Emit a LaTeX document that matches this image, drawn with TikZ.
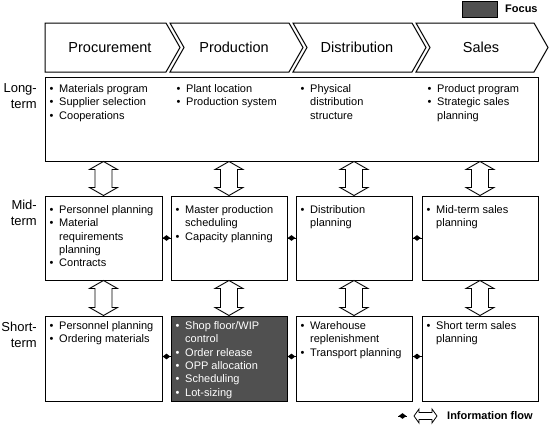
\documentclass[tikz,border=0pt]{standalone}
\usepackage{fontspec}
\setmainfont{Liberation Sans}
\usetikzlibrary{calc,shapes.geometric}
\definecolor{focusgray}{RGB}{80,80,80}
\newcommand{\bul}{\makebox[9.5pt][l]{•}}
\newcommand{\blist}[1]{\begin{tabular}[t]{@{}l@{}l@{}}#1\end{tabular}}
\newcommand{\vdbl}[2]{%
  \draw[dblarr] let \p1=(#1), \p2=(#2) in
    (\x1,\y1) -- (\x1+14pt,\y1-8pt) -- (\x1+8.5pt,\y1-8pt) -- (\x1+8.5pt,\y2+8pt)
    -- (\x1+14pt,\y2+8pt) -- (\x1,\y2) -- (\x1-14pt,\y2+8pt) -- (\x1-8.5pt,\y2+8pt)
    -- (\x1-8.5pt,\y1-8pt) -- (\x1-14pt,\y1-8pt) -- cycle;}
\newcommand{\hdbl}[2]{%
  \draw[legarr] let \p1=(#1), \p2=(#2) in
    (\x1,\y1) -- (\x1+5pt,\y1+7pt) -- (\x1+5pt,\y1+3.5pt) -- (\x2-5pt,\y1+3.5pt)
    -- (\x2-5pt,\y1+7pt) -- (\x2,\y1) -- (\x2-5pt,\y1-7pt) -- (\x2-5pt,\y1-3.5pt)
    -- (\x1+5pt,\y1-3.5pt) -- (\x1+5pt,\y1-7pt) -- cycle;}
\begin{document}
\begin{tikzpicture}[x=1pt,y=-1pt,
  chev/.style={draw, line width=1pt, fill=white},
  chevtxt/.style={font=\fontsize{14.5}{17}\selectfont, inner sep=0},
  box/.style={draw, line width=1pt, fill=white, inner sep=0},
  txt/.style={font=\fontsize{11}{13.3}\selectfont, inner sep=0},
  rowlbl/.style={font=\fontsize{13}{16.5}\selectfont, align=right, inner sep=0, anchor=east},
  dblarr/.style={draw, line width=0.9pt, fill=white},
  legarr/.style={draw, line width=0.8pt, fill=white},
  info/.style={draw, line width=0.8pt},
  dia/.style={diamond, fill=black, inner sep=0, minimum width=8pt, minimum height=6pt},
  legfont/.style={font=\bfseries\fontsize{11}{13}\selectfont, inner sep=0}]
\useasboundingbox (0,0) rectangle (550,426);

% Process chevrons
\draw[chev] (45,23) -- (166,23) -- (180,47.5) -- (166,72) -- (45,72) -- cycle;
\draw[chev] (170,23) -- (289,23) -- (303,47.5) -- (289,72) -- (170,72) -- (184,47.5) -- cycle;
\draw[chev] (293,23) -- (412,23) -- (426,47.5) -- (412,72) -- (293,72) -- (307,47.5) -- cycle;
\draw[chev] (416,23) -- (534,23) -- (548,47.5) -- (534,72) -- (416,72) -- (430,47.5) -- cycle;
\node[chevtxt] (c1) at (110,47.5) {Procurement};
\node[chevtxt] (c2) at (234,47.5) {Production};
\node[chevtxt] (c3) at (357,47.5) {Distribution};
\node[chevtxt] (c4) at (481,47.5) {Sales};

% Row labels
\node[rowlbl] (rl1) at (37,96) {Long-\\term};
\node[rowlbl] (rl2) at (37,213) {Mid-\\term};
\node[rowlbl] (rl3) at (37,335) {Short-\\term};

% Boxes
\node[box, minimum width=493pt, minimum height=84pt] (lt) at (291.5,119) {};
\node[box, minimum width=117pt, minimum height=84pt] (m1) at (103.5,238) {};
\node[box, minimum width=116pt, minimum height=84pt] (m2) at (229,238) {};
\node[box, minimum width=116pt, minimum height=84pt] (m3) at (354,238) {};
\node[box, minimum width=116pt, minimum height=84pt] (m4) at (480,238) {};
\node[box, minimum width=117pt, minimum height=85pt] (s1) at (103.5,358.5) {};
\node[box, minimum width=116pt, minimum height=85pt, fill=focusgray] (s2) at (229,358.5) {};
\node[box, minimum width=116pt, minimum height=85pt] (s3) at (354,358.5) {};
\node[box, minimum width=116pt, minimum height=85pt] (s4) at (480,358.5) {};

% Long-term texts
\node[txt, anchor=base west] (lt1) at ($(m1.north west |- lt.north west)+(5pt,-16pt)$)
  {\blist{\bul & Materials program\\ \bul & Supplier selection\\ \bul & Cooperations}};
\node[txt, anchor=base west] (lt2) at ($(m2.north west |- lt.north west)+(6pt,-16pt)$)
  {\blist{\bul & Plant location\\ \bul & Production system}};
\node[txt, anchor=base west] (lt3) at ($(m3.north west |- lt.north west)+(5pt,-16pt)$)
  {\blist{\bul & Physical\\ & distribution\\ & structure}};
\node[txt, anchor=base west] (lt4) at ($(m4.north west |- lt.north west)+(6pt,-16pt)$)
  {\blist{\bul & Product program\\ \bul & Strategic sales\\ & planning}};

% Mid-term texts
\node[txt, anchor=base west] (mt1) at ($(m1.north west)+(5pt,-18pt)$)
  {\blist{\bul & Personnel planning\\ \bul & Material\\ & requirements\\ & planning\\ \bul & Contracts}};
\node[txt, anchor=base west] (mt2) at ($(m2.north west)+(5pt,-18pt)$)
  {\blist{\bul & Master production\\ & scheduling\\ \bul & Capacity planning}};
\node[txt, anchor=base west] (mt3) at ($(m3.north west)+(5pt,-18pt)$)
  {\blist{\bul & Distribution\\ & planning}};
\node[txt, anchor=base west] (mt4) at ($(m4.north west)+(5pt,-18pt)$)
  {\blist{\bul & Mid-term sales\\ & planning}};

% Short-term texts
\node[txt, anchor=base west] (st1) at ($(s1.north west)+(5pt,-14pt)$)
  {\blist{\bul & Personnel planning\\ \bul & Ordering materials}};
\node[txt, anchor=base west, text=white] (st2) at ($(s2.north west)+(5pt,-14pt)$)
  {\blist{\bul & Shop floor/WIP\\ & control\\ \bul & Order release\\ \bul & OPP allocation\\ \bul & Scheduling\\ \bul & Lot-sizing}};
\node[txt, anchor=base west] (st3) at ($(s3.north west)+(5pt,-14pt)$)
  {\blist{\bul & Warehouse\\ & replenishment\\ \bul & Transport planning}};
\node[txt, anchor=base west] (st4) at ($(s4.north west)+(5pt,-14pt)$)
  {\blist{\bul & Short term sales\\ & planning}};

% Vertical information flows
\vdbl{lt.south -| m1.north}{m1.north}
\vdbl{lt.south -| m2.north}{m2.north}
\vdbl{lt.south -| m3.north}{m3.north}
\vdbl{lt.south -| m4.north}{m4.north}
\vdbl{m1.south}{s1.north}
\vdbl{m2.south}{s2.north}
\vdbl{m3.south}{s3.north}
\vdbl{m4.south}{s4.north}

% Horizontal information flows
\draw[info] (m1.east) -- (m2.west) node[midway, dia] (d1) {};
\draw[info] (m2.east) -- (m3.west) node[midway, dia] (d2) {};
\draw[info] (m3.east) -- (m4.west) node[midway, dia] (d3) {};
\draw[info] ([yshift=2pt]s1.east) -- ([yshift=2pt]s2.west) node[midway, dia] (d4) {};
\draw[info] ([yshift=2pt]s2.east) -- ([yshift=2pt]s3.west) node[midway, dia] (d5) {};
\draw[info] ([yshift=2pt]s3.east) -- ([yshift=2pt]s4.west) node[midway, dia] (d6) {};

% Legend: focus
\node[draw, line width=0.6pt, fill=focusgray, minimum width=35pt, minimum height=16pt, inner sep=0] (fbox) at (479.5,9) {};
\node[legfont, anchor=west] (ftxt) at (505,9) {Focus};

% Legend: information flow
\coordinate (ld1) at (398,416);
\coordinate (ld2) at (407,416);
\draw[info] (ld1) -- (ld2) node[midway, dia] (ldia) {};
\coordinate (la) at (414,416);
\coordinate (lb) at (437,416);
\hdbl{la}{lb}
\node[legfont, anchor=west] (ltxt) at (447,416) {Information flow};
\end{tikzpicture}
\end{document}
